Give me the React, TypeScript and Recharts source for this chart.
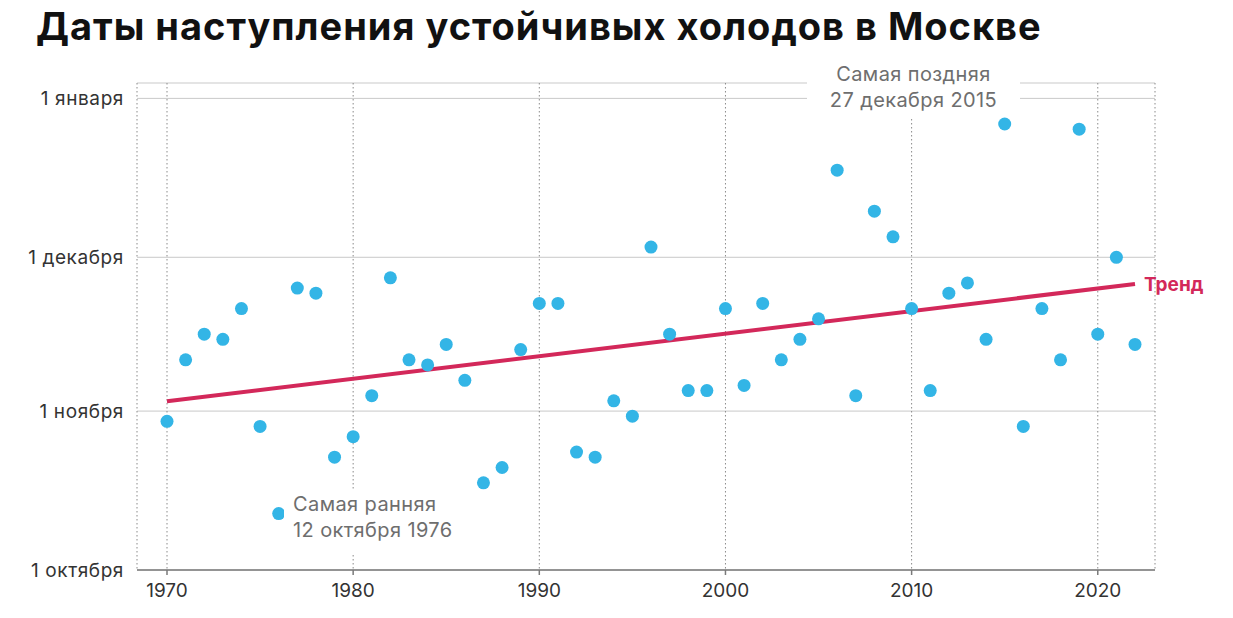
import React from "react";
import { ScatterChart, Scatter, XAxis, YAxis, CartesianGrid, ReferenceDot } from "recharts";

// --- DATA ---
// day = days after 1 October (0 = 1 окт, 31 = 1 ноя, 61 = 1 дек, 92 = 1 янв)
const YEARS = [
    1970, 1971, 1972, 1973, 1974, 1975, 1976, 1977, 1978, 1979,
    1980, 1981, 1982, 1983, 1984, 1985, 1986, 1987, 1988, 1989,
    1990, 1991, 1992, 1993, 1994, 1995, 1996, 1997, 1998, 1999,
    2000, 2001, 2002, 2003, 2004, 2005, 2006, 2007, 2008, 2009,
    2010, 2011, 2012, 2013, 2014, 2015, 2016, 2017, 2018, 2019,
    2020, 2021, 2022,
];
const DAYS = [
    29, 41, 46, 45, 51, 28, 11, 55, 54, 22,
    26, 34, 57, 41, 40, 44, 37, 17, 20, 43,
    52, 52, 23, 22, 33, 30, 63, 46, 35, 35,
    51, 36, 52, 41, 45, 49, 78, 34, 70, 65,
    51, 35, 54, 56, 45, 87, 28, 51, 41, 86,
    46, 61, 44,
];
const TREND_YEARS = [1970, 2022];
const TREND_DAYS = [32.9, 55.8];

const X_TICKS = [1970, 1980, 1990, 2000, 2010, 2020];
const Y_TICKS = [0, 31, 61, 92];
const Y_LABELS = ["1 октября", "1 ноября", "1 декабря", "1 января"];

// --- COLORS ---
const DOT = "#33b5e6";
const TREND = "#d3285a";
const FONT = "Inter, 'Noto Sans', sans-serif";

const points = YEARS.map((year, i) => ({ year, day: DAYS[i] }));
const trend = TREND_YEARS.map((year, i) => ({ year, day: TREND_DAYS[i] }));

const noteStyle: React.CSSProperties = {
    position: "absolute",
    background: "#fff",
    color: "#6e6e6e",
    fontSize: 20,
    letterSpacing: 0.4,
    lineHeight: "26px",
    fontFamily: FONT,
    whiteSpace: "nowrap",
};

export default function App() {
    return (
        <div style={{ position: "absolute", left: 0, top: 0, width: 1233, height: 618, background: "#fff", fontFamily: FONT }}>
            <div style={{ position: "absolute", left: 36, top: 3, fontSize: 38, fontWeight: 700, color: "#111", whiteSpace: "nowrap", letterSpacing: 1 }}>
                Даты наступления устойчивых холодов в Москве
            </div>
            <ScatterChart width={1233} height={618} margin={{ top: 83, right: 78, bottom: 0, left: 0 }}>
                <CartesianGrid vertical={false} stroke="#c9c9c9" />
                <CartesianGrid horizontal={false} stroke="#8a8a8a" strokeDasharray="1.5 2.5" />
                <XAxis
                    type="number"
                    dataKey="year"
                    domain={[1970, 2022]}
                    ticks={X_TICKS}
                    padding={{ left: 30, right: 20 }}
                    height={48}
                    stroke="#7a7a7a"
                    strokeWidth={1.5}
                    tickSize={5}
                    tickMargin={9}
                    tick={{ fill: "#333", fontSize: 19, fontFamily: FONT }}
                />
                <YAxis
                    type="number"
                    dataKey="day"
                    domain={[0, 95]}
                    ticks={Y_TICKS}
                    width={137}
                    axisLine={false}
                    tickLine={false}
                    tickSize={6}
                    tickMargin={7}
                    tickFormatter={(v: number) => Y_LABELS[Y_TICKS.indexOf(v)] ?? ""}
                    tick={{ fill: "#333", fontSize: 19, fontFamily: FONT, letterSpacing: 0.6 }}
                />
                <Scatter
                    data={trend}
                    line={{ stroke: TREND, strokeWidth: 4 }}
                    shape={() => <g />}
                    isAnimationActive={false}
                />
                <Scatter
                    data={points}
                    fill={DOT}
                    shape={(p: any) => <circle cx={p.cx} cy={p.cy} r={6.5} fill={DOT} />}
                    isAnimationActive={false}
                />
                <ReferenceDot
                    x={TREND_YEARS[1]}
                    y={TREND_DAYS[1]}
                    r={0}
                    stroke="none"
                    label={{ value: "Тренд", position: "right", offset: 9, fill: TREND, fontSize: 19, fontWeight: 700, fontFamily: FONT }}
                />
            </ScatterChart>
            <div style={{ ...noteStyle, left: 284, top: 491, padding: "0 6px 10px 9px" }}>
                Самая ранняя
                <br />
                12 октября 1976
            </div>
            <div style={{ ...noteStyle, left: 807, top: 61, width: 213, textAlign: "center", paddingBottom: 4 }}>
                Самая поздняя
                <br />
                27 декабря 2015
            </div>
        </div>
    );
}
